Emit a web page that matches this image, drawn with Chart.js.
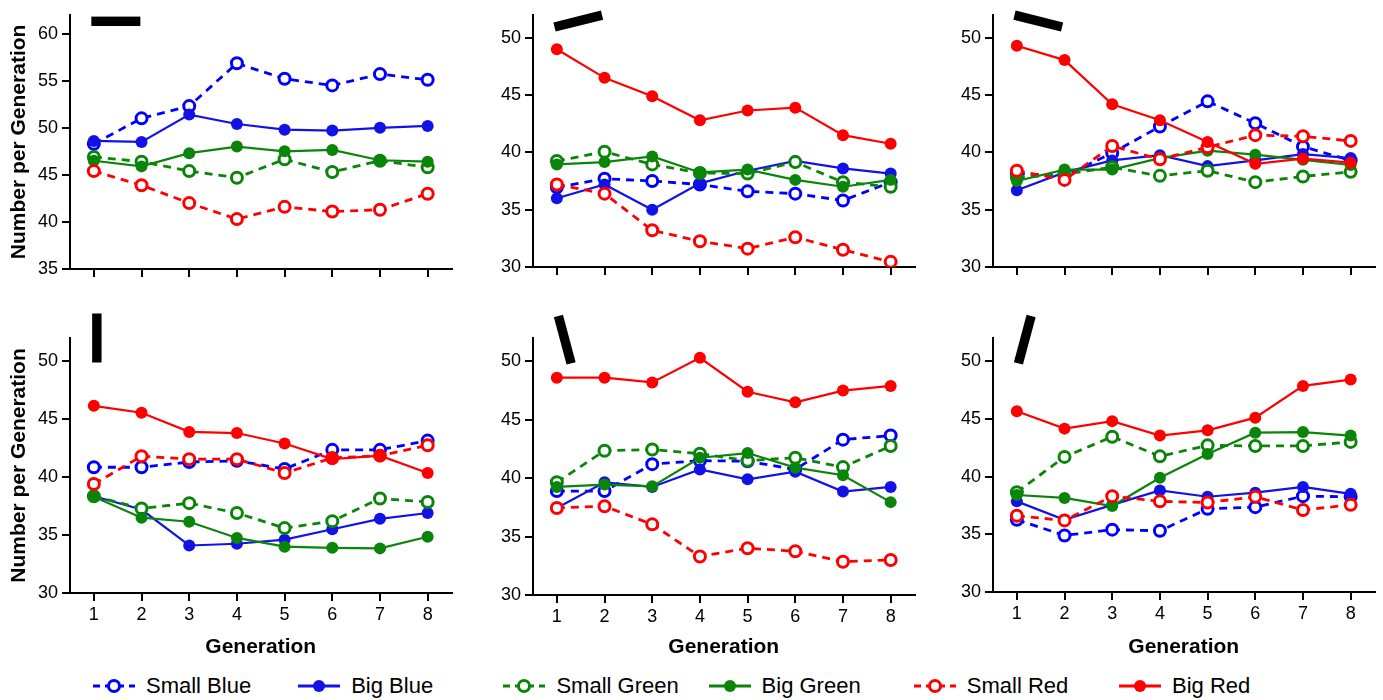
<!DOCTYPE html>
<html lang="en">
<head>
<meta charset="UTF-8">
<title>Number per Generation</title>
<script src="https://cdn.jsdelivr.net/npm/chart.js@4.4.1/dist/chart.umd.min.js"></script>
<style>
  body { margin: 0; background: #fff; font-family: Arial, "Liberation Sans", sans-serif; }
  #wrap { position: relative; width: 1383px; height: 700px; overflow: hidden; }
  canvas { position: absolute; }
  #legend { position: absolute; left: 0; top: 672px; width: 1383px; height: 28px; }
  .item { position: absolute; top: 0; height: 28px; display: flex; align-items: center; }
  .item span { font-size: 22px; color: #000; margin-left: 10px; }
</style>
</head>
<body>
<div id="wrap">
  <canvas id="p1" width="460" height="300" style="left:0;top:0"></canvas>
  <canvas id="p2" width="460" height="300" style="left:463px;top:0"></canvas>
  <canvas id="p3" width="460" height="300" style="left:923px;top:0"></canvas>
  <canvas id="p4" width="460" height="360" style="left:0;top:300px"></canvas>
  <canvas id="p5" width="460" height="360" style="left:463px;top:300px"></canvas>
  <canvas id="p6" width="460" height="360" style="left:923px;top:300px"></canvas>
  <div id="legend"></div>
</div>
<script>
// x categories and tick labels
const generations = [1, 2, 3, 4, 5, 6, 7, 8];
const yTicksP1 = [35, 40, 45, 50, 55, 60];
const yTicksOther = [30, 35, 40, 45, 50];

const seriesNames = ['Small Blue', 'Big Blue', 'Small Green', 'Big Green', 'Small Red', 'Big Red'];

// panel 1 (horizontal bar)
const p1SmallBlue  = [48.3, 51.0, 52.3, 56.85, 55.2, 54.5, 55.7, 55.1];
const p1BigBlue    = [48.6, 48.5, 51.4, 50.4, 49.8, 49.7, 50.0, 50.2];
const p1SmallGreen = [46.9, 46.4, 45.4, 44.7, 46.65, 45.3, 46.5, 45.8];
const p1BigGreen   = [46.5, 45.9, 47.3, 48.0, 47.5, 47.65, 46.55, 46.4];
const p1SmallRed   = [45.4, 43.9, 42.0, 40.3, 41.6, 41.1, 41.3, 43.0];
const p1BigRed     = [];

// panel 2
const p2SmallBlue  = [36.95, 37.7, 37.5, 37.2, 36.6, 36.4, 35.8, 37.4];
const p2BigBlue    = [36.0, 37.2, 35.0, 37.3, 38.4, 39.25, 38.6, 38.15];
const p2SmallGreen = [39.25, 40.05, 38.95, 38.2, 38.15, 39.15, 37.4, 37.0];
const p2BigGreen   = [38.95, 39.15, 39.65, 38.25, 38.5, 37.6, 37.0, 37.6];
const p2SmallRed   = [37.2, 36.4, 33.2, 32.25, 31.6, 32.6, 31.5, 30.45];
const p2BigRed     = [49.0, 46.5, 44.9, 42.8, 43.65, 43.9, 41.5, 40.75];

// panel 3
const p3SmallBlue  = [38.15, 37.95, 39.95, 42.25, 44.45, 42.55, 40.5, 39.3];
const p3BigBlue    = [36.7, 38.25, 39.3, 39.75, 38.8, 39.3, 39.85, 39.5];
const p3SmallGreen = [37.8, 38.1, 38.7, 37.95, 38.4, 37.4, 37.9, 38.3];
const p3BigGreen   = [37.5, 38.5, 38.5, 39.5, 40.15, 39.8, 39.35, 38.9];
const p3SmallRed   = [38.4, 37.6, 40.55, 39.4, 40.45, 41.5, 41.4, 41.0];
const p3BigRed     = [49.3, 48.05, 44.2, 42.8, 40.9, 39.0, 39.45, 39.1];

// panel 4 (vertical bar)
const p4SmallBlue  = [40.85, 40.85, 41.3, 41.4, 40.7, 42.35, 42.35, 43.15];
const p4BigBlue    = [38.35, 37.2, 34.1, 34.25, 34.6, 35.5, 36.4, 36.9];
const p4SmallGreen = [38.35, 37.3, 37.75, 36.9, 35.6, 36.2, 38.15, 37.85];
const p4BigGreen   = [38.3, 36.5, 36.15, 34.75, 34.0, 33.9, 33.85, 34.85];
const p4SmallRed   = [39.4, 41.8, 41.55, 41.55, 40.35, 41.65, 41.85, 42.75];
const p4BigRed     = [46.15, 45.55, 43.9, 43.8, 42.9, 41.55, 41.85, 40.35];

// panel 5
const p5SmallBlue  = [38.9, 38.9, 41.2, 41.5, 41.45, 40.75, 43.3, 43.65];
const p5BigBlue    = [37.45, 39.65, 39.25, 40.75, 39.9, 40.55, 38.85, 39.25];
const p5SmallGreen = [39.65, 42.35, 42.45, 42.1, 41.5, 41.75, 40.95, 42.75];
const p5BigGreen   = [39.25, 39.45, 39.3, 41.75, 42.15, 40.9, 40.25, 37.95];
const p5SmallRed   = [37.45, 37.6, 36.05, 33.3, 34.0, 33.75, 32.85, 33.0];
const p5BigRed     = [48.6, 48.6, 48.2, 50.3, 47.4, 46.5, 47.5, 47.9];

// panel 6
const p6SmallBlue  = [36.25, 34.9, 35.4, 35.3, 37.2, 37.35, 38.3, 38.25];
const p6BigBlue    = [37.85, 36.25, 37.55, 38.8, 38.25, 38.6, 39.1, 38.5];
const p6SmallGreen = [38.65, 41.7, 43.45, 41.75, 42.7, 42.65, 42.65, 43.0];
const p6BigGreen   = [38.4, 38.15, 37.45, 39.9, 41.95, 43.8, 43.85, 43.55];
const p6SmallRed   = [36.6, 36.2, 38.3, 37.85, 37.75, 38.25, 37.1, 37.55];
const p6BigRed     = [45.65, 44.15, 44.8, 43.55, 44.0, 45.1, 47.85, 48.4];

const colors = ['#0000ff', '#1212e6', '#0a850a', '#0a850a', '#ff0000', '#ff0000'];
const FONT = 'Arial, "Liberation Sans", sans-serif';

// draws the black orientation bar in the top-left corner
const glyphPlugin = {
    id: 'glyph',
    afterDraw(chart) {
        const a = chart.options.plugins.glyph.angle;
        if (a == null) return;
        const rad = a * Math.PI / 180;
        const ctx = chart.ctx;
        const t1 = chart.scales.x.getPixelForValue(1);
        const cx = t1 + 3 + 19 * Math.abs(Math.cos(rad));
        const cy = chart.chartArea.top + 6.5 * Math.abs(Math.cos(rad));
        ctx.save();
        ctx.translate(cx, cy);
        ctx.rotate(rad);
        ctx.fillStyle = '#000';
        ctx.fillRect(-24.5, -4.7, 49, 9.4);
        ctx.restore();
    }
};

function makeDatasets(rows) {
    return rows.map(function (vals, i) {
        const small = i % 2 === 0;
        return {
            label: seriesNames[i],
            data: generations.map(function (g, k) { return { x: g, y: vals[k] }; }).filter(function (p) { return p.y != null; }),
            borderColor: colors[i],
            backgroundColor: small ? '#ffffff' : colors[i],
            borderWidth: small ? 2.8 : 2.2,
            borderDash: small ? [8, 6] : [],
            pointRadius: small ? 5.5 : 6,
            pointBorderWidth: small ? 3 : 0,
            pointBackgroundColor: small ? '#ffffff' : colors[i],
            pointBorderColor: colors[i],
            tension: 0,
            order: 6 - i
        };
    });
}

function makePanel(id, rows, cfg) {
    const config = {
        type: 'line',
        data: { datasets: makeDatasets(rows) },
        plugins: [glyphPlugin],
        options: {
            responsive: false,
            animation: false,
            devicePixelRatio: 1,
            layout: { padding: { top: cfg.padTop, right: 7, left: 0, bottom: 0 } },
            plugins: {
                legend: { display: false },
                tooltip: { enabled: false },
                glyph: { angle: cfg.angle }
            },
            scales: {
                x: {
                    type: 'linear',
                    min: 0.5,
                    max: 8.5,
                    afterBuildTicks: function (s) { s.ticks = generations.map(function (v) { return { value: v }; }); },
                    afterFit: function (s) { s.height = cfg.xHeight; },
                    grid: { drawOnChartArea: false, tickLength: 8, color: '#000', lineWidth: 2 },
                    border: { color: '#000', width: 2 },
                    ticks: { display: cfg.xLabels, color: '#000', padding: 3, font: { family: FONT, size: 18 } },
                    title: {
                        display: cfg.xLabels,
                        text: 'Generation',
                        color: '#000',
                        padding: { top: 0, bottom: 0 },
                        font: { family: FONT, size: 21, weight: 'bold' }
                    }
                },
                y: {
                    min: cfg.yMin,
                    max: cfg.yMax,
                    afterBuildTicks: function (s) { s.ticks = cfg.yTicks.map(function (v) { return { value: v }; }); },
                    afterFit: function (s) { s.width = 70; },
                    grid: { drawOnChartArea: false, tickLength: 8, color: '#000', lineWidth: 2 },
                    border: { color: '#000', width: 2 },
                    ticks: { color: '#000', padding: 4, font: { family: FONT, size: 18 } },
                    title: {
                        display: cfg.yTitle,
                        text: 'Number per Generation',
                        color: '#000',
                        padding: { top: 7, bottom: 0 },
                        font: { family: FONT, size: 21, weight: 'bold' }
                    }
                }
            }
        }
    };
    return new Chart(document.getElementById(id).getContext('2d'), config);
}

makePanel('p1', [p1SmallBlue, p1BigBlue, p1SmallGreen, p1BigGreen, p1SmallRed, p1BigRed],
    { yMin: 35, yMax: 62, yTicks: yTicksP1, padTop: 12, xHeight: 31, xLabels: false, yTitle: true, angle: 0 });
makePanel('p2', [p2SmallBlue, p2BigBlue, p2SmallGreen, p2BigGreen, p2SmallRed, p2BigRed],
    { yMin: 30, yMax: 52, yTicks: yTicksOther, padTop: 12, xHeight: 33, xLabels: false, yTitle: false, angle: -14 });
makePanel('p3', [p3SmallBlue, p3BigBlue, p3SmallGreen, p3BigGreen, p3SmallRed, p3BigRed],
    { yMin: 30, yMax: 52, yTicks: yTicksOther, padTop: 12, xHeight: 33, xLabels: false, yTitle: false, angle: 14 });
makePanel('p4', [p4SmallBlue, p4BigBlue, p4SmallGreen, p4BigGreen, p4SmallRed, p4BigRed],
    { yMin: 30, yMax: 52, yTicks: yTicksOther, padTop: 38, xHeight: 67, xLabels: true, yTitle: true, angle: 90 });
makePanel('p5', [p5SmallBlue, p5BigBlue, p5SmallGreen, p5BigGreen, p5SmallRed, p5BigRed],
    { yMin: 30, yMax: 52, yTicks: yTicksOther, padTop: 38, xHeight: 65, xLabels: true, yTitle: false, angle: 75 });
makePanel('p6', [p6SmallBlue, p6BigBlue, p6SmallGreen, p6BigGreen, p6SmallRed, p6BigRed],
    { yMin: 30, yMax: 52, yTicks: yTicksOther, padTop: 38, xHeight: 68, xLabels: true, yTitle: false, angle: 105 });

// legend row
const legend = document.getElementById('legend');
seriesNames.forEach(function (name, i) {
    const small = i % 2 === 0;
    const item = document.createElement('div');
    item.className = 'item';
    item.style.left = (92 + i * 205.2) + 'px';
    const dash = small ? ' stroke-dasharray="7 5"' : '';
    const marker = small
        ? '<circle cx="22" cy="14" r="5.5" fill="#fff" stroke="' + colors[i] + '" stroke-width="3"/>'
        : '<circle cx="22" cy="14" r="6" fill="' + colors[i] + '"/>';
    item.innerHTML = '<svg width="44" height="28"><line x1="1" y1="14" x2="43" y2="14" stroke="' + colors[i] +
        '" stroke-width="2.8"' + dash + '/>' + marker + '</svg><span>' + name + '</span>';
    legend.appendChild(item);
});
</script>
</body>
</html>
